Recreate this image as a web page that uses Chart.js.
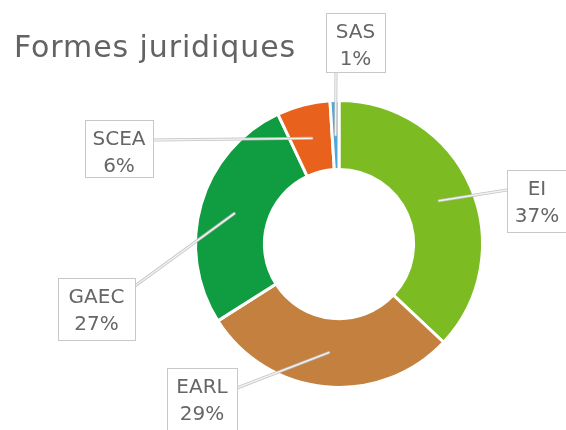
<!DOCTYPE html>
<html>
<head>
<meta charset="utf-8">
<script src="https://cdn.jsdelivr.net/npm/chart.js@4/dist/chart.umd.min.js"></script>
<style>
  html, body { margin: 0; padding: 0; background: #ffffff; }
  #wrap { width: 566px; height: 430px; position: relative; }
</style>
</head>
<body>
<div id="wrap"><canvas id="c" width="566" height="430"></canvas></div>
<script>
// Répartition des exploitations par forme juridique (%)
const categories = ['EI', 'EARL', 'GAEC', 'SCEA', 'SAS'];
const shares = [37, 29, 27, 6, 1];
const sliceColors = ['#7dbb23', '#c4803e', '#109c40', '#e8621e', '#4fa8d8'];
const chartTitle = 'Formes juridiques';

// Callout boxes: box rectangle and the point on the box where the leader line attaches
const callouts = {
  EI:   { box: [507, 170, 60, 62], attach: [507, 190] },
  EARL: { box: [167, 368, 70, 66], attach: [237, 388] },
  GAEC: { box: [58, 278, 77, 62],  attach: [135, 286] },
  SCEA: { box: [85, 120, 68, 57],  attach: [153, 140] },
  SAS:  { box: [326, 13, 59, 59],  attach: [336, 72] }
};

const titlePlugin = {
  id: 'titleText',
  afterDraw(chart) {
    const ctx = chart.ctx;
    ctx.save();
    ctx.font = '30px "DejaVu Sans", Verdana, sans-serif';
    if ('letterSpacing' in ctx) ctx.letterSpacing = '0.9px';
    ctx.fillStyle = '#636363';
    ctx.textBaseline = 'alphabetic';
    ctx.textAlign = 'left';
    ctx.fillText(chartTitle, 14, 57);
    ctx.restore();
  }
};

const calloutPlugin = {
  id: 'callouts',
  afterDatasetsDraw(chart) {
    const ctx = chart.ctx;
    const meta = chart.getDatasetMeta(0);
    meta.data.forEach((arc, i) => {
      const name = chart.data.labels[i];
      const cfg = callouts[name];
      if (!cfg) return;
      const p = arc.getProps(['x', 'y', 'startAngle', 'endAngle', 'innerRadius', 'outerRadius'], true);
      const mid = (p.startAngle + p.endAngle) / 2;
      const r = (p.innerRadius + p.outerRadius) / 2;
      const ax = p.x + Math.cos(mid) * r;
      const ay = p.y + Math.sin(mid) * r;
      const [bx, by] = cfg.attach;

      ctx.save();
      ctx.lineCap = 'round';
      ctx.strokeStyle = 'rgba(190,190,190,0.9)';
      ctx.lineWidth = 3;
      ctx.beginPath(); ctx.moveTo(ax, ay); ctx.lineTo(bx, by); ctx.stroke();
      ctx.strokeStyle = '#f2f2f2';
      ctx.lineWidth = 1.4;
      ctx.beginPath(); ctx.moveTo(ax, ay); ctx.lineTo(bx, by); ctx.stroke();

      const [x, y, w, h] = cfg.box;
      ctx.fillStyle = '#ffffff';
      ctx.fillRect(x, y, w, h);
      ctx.strokeStyle = '#c8c8c8';
      ctx.lineWidth = 1;
      ctx.strokeRect(x + 0.5, y + 0.5, w, h);

      ctx.fillStyle = '#666666';
      ctx.font = '20px "DejaVu Sans", Verdana, sans-serif';
      ctx.textAlign = 'center';
      ctx.textBaseline = 'alphabetic';
      const cx = x + w / 2;
      ctx.fillText(name, cx, y + 25);
      ctx.fillText(chart.data.datasets[0].data[i] + '%', cx, y + 52);
      ctx.restore();
    });
  }
};

new Chart(document.getElementById('c'), {
  type: 'doughnut',
  data: {
    labels: categories,
    datasets: [{
      data: shares,
      backgroundColor: sliceColors,
      borderColor: '#ffffff',
      borderWidth: 3
    }]
  },
  options: {
    responsive: false,
    animation: false,
    cutout: '52%',
    rotation: 0,
    layout: { padding: { left: 194, right: 82, top: 99, bottom: 41 } },
    plugins: {
      legend: { display: false },
      tooltip: { enabled: false },
      title: { display: false }
    }
  },
  plugins: [titlePlugin, calloutPlugin]
});
</script>
</body>
</html>
